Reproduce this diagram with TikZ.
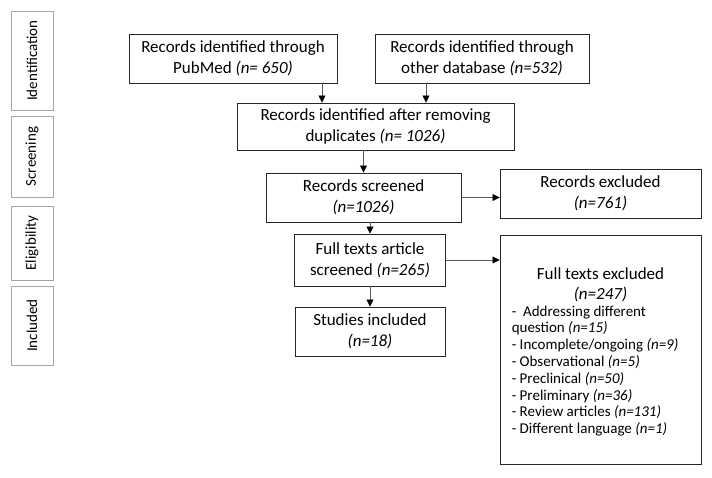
\documentclass[tikz,border=0pt]{standalone}
\usepackage{fontspec}
\setmainfont{Carlito}
\usetikzlibrary{arrows.meta}
\begin{document}
\begin{tikzpicture}[x=1pt, y=-1pt,
        box/.style = {draw=black!85, line width=0.9pt, align=center, inner sep=2pt,
            font=\fontsize{17}{21}\selectfont},
        phase/.style = {draw=black!35, line width=0.8pt, rotate=90, minimum height=42pt,
            inner sep=0pt, font=\fontsize{15}{18}\selectfont},
        arr/.style = {draw=black!65, line width=0.7pt,
            -{Triangle[length=7pt, width=7pt, black]}}]
        \useasboundingbox (0, 0) rectangle (712, 477);
        \node [phase, minimum width=99pt] (ident) at (32, 60.5) {Identification};
        \node [phase, minimum width=81pt] (screen) at (32, 156.5) {Screening};
        \node [phase, minimum width=74pt] (elig) at (32, 243) {Eligibility};
        \node [phase, minimum width=79pt] (incl) at (32, 325.5) {Included};
        \node [box, minimum width=208pt, minimum height=49pt] (pubmed) at (233, 58.5)
            {Records identified through\\PubMed \textit{(n= 650)}};
        \node [box, minimum width=214pt, minimum height=49pt] (other) at (482, 58.5)
            {Records identified through\\other database \textit{(n=532)}};
        \node [box, minimum width=277pt, minimum height=47pt] (dup) at (375.5, 126.5)
            {Records identified after removing\\duplicates \textit{(n= 1026)}};
        \node [box, minimum width=195pt, minimum height=49pt] (screened) at (363.5, 197.5)
            {Records screened\\\textit{(n=1026)}};
        \node [box, minimum width=201pt, minimum height=49pt] (excl) at (600.5, 193.5)
            {Records excluded\\\textit{(n=761)}};
        \node [box, minimum width=151pt, minimum height=52pt] (fulltext) at (370, 260)
            {Full texts article\\screened \textit{(n=265)}};
        \node [box, minimum width=150pt, minimum height=49pt] (studies) at (370, 331.5)
            {Studies included\\\textit{(n=18)}};
        \node [box, minimum width=201pt, minimum height=229pt] (fullexcl) at (600.5, 349.5) {};
        \node [align=center, inner sep=0pt, anchor=north, font=\fontsize{17}{20}\selectfont]
            (fullhead) at ([yshift=-33pt]fullexcl.north)
            {Full texts excluded\\\textit{(n=247)}};
        \node [align=left, inner sep=0pt, anchor=north west, font=\fontsize{15}{16.8}\selectfont]
            (reasons) at ([xshift=12pt, yshift=-71pt]fullexcl.north west)
            {- \ Addressing different\\
            question \textit{(n=15)}\\
            - Incomplete/ongoing \textit{(n=9)}\\
            - Observational \textit{(n=5)}\\
            - Preclinical \textit{(n=50)}\\
            - Preliminary \textit{(n=36)}\\
            - Review articles \textit{(n=131)}\\
            - Different language \textit{(n=1)}};
        \coordinate (pubout) at ([xshift=89pt]pubmed.south);
        \coordinate (otherout) at ([xshift=-56pt]other.south);
        \draw [arr] (pubout) -- (pubout |- dup.north);
        \draw [arr] (otherout) -- (otherout |- dup.north);
        \draw [arr] (dup.south -| screened.north) -- (screened.north);
        \draw [arr] (screened.south -| fulltext.north) -- (fulltext.north);
        \draw [arr] (fulltext.south) -- (studies.north);
        \draw [arr] (screened.east) -- (screened.east -| excl.west);
        \draw [arr] (fulltext.east) -- (fulltext.east -| fullexcl.west);
    \end{tikzpicture}
\end{document}
